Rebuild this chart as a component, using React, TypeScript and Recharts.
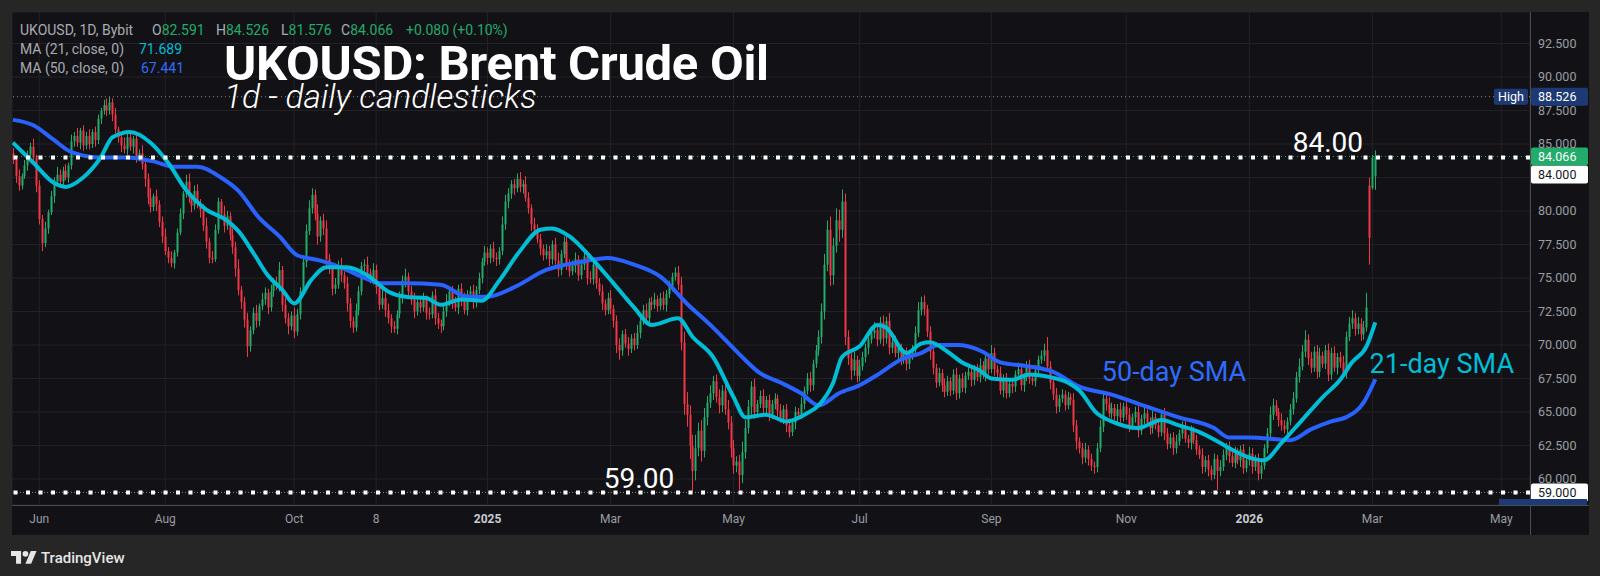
import React from 'react'
import {
  ComposedChart, Bar, Line, XAxis, YAxis, CartesianGrid, ReferenceLine, ReferenceDot,
} from 'recharts'

const GREEN = '#22ab6b'
const RED = '#f23645'
const CYAN = '#00bcd4'
const BLUE = '#2962ff'
const AXIS_TEXT = '#9a9da5'
const FONT = 'Roboto, "Noto Sans", sans-serif'

// daily closes, one per bar (21 May 2024 .. 3 Mar 2026)
const closes = [
  83.8, 82.6, 81.9, 82.6, 83.4, 84.2, 84.8, 84.0, 81.9, 79.4,
  77.6, 78.7, 79.9, 81.1, 82.2, 82.7, 82.2, 83.0, 82.5, 83.4,
  85.2, 85.6, 85.1, 86.0, 84.9, 85.6, 85.0, 85.9, 85.3, 86.9,
  87.5, 87.9, 87.5, 88.1, 87.2, 86.1, 85.5, 84.9, 84.6, 85.5,
  84.8, 85.4, 84.0, 84.3, 83.5, 82.4, 81.0, 80.3, 81.1, 80.5,
  79.2, 78.1, 77.0, 76.5, 76.1, 76.9, 78.4, 79.8, 81.3, 82.2,
  81.0, 80.4, 81.5, 80.6, 80.1, 78.9, 77.7, 76.5, 76.4, 78.6,
  80.7, 79.8, 78.9, 79.6, 78.2, 77.3, 75.7, 74.1, 73.2, 71.9,
  69.9, 71.1, 72.4, 71.8, 72.9, 73.4, 73.9, 72.8, 74.0, 74.7,
  74.4, 75.6, 73.0, 72.0, 71.4, 72.2, 71.0, 72.3, 74.0, 76.2,
  78.5, 80.2, 81.2, 79.8, 78.1, 79.3, 78.7, 76.4, 75.7, 74.2,
  74.5, 75.9, 75.2, 74.6, 73.1, 71.8, 71.3, 72.6, 74.0, 75.9,
  76.0, 75.4, 74.9, 75.6, 74.3, 73.0, 73.5, 72.6, 72.0, 71.4,
  71.2, 72.3, 73.5, 74.8, 75.1, 74.0, 73.4, 72.5, 73.2, 72.8,
  73.4, 72.4, 72.3, 73.7, 72.0, 71.6, 71.4, 72.5, 73.2, 74.0,
  73.1, 72.8, 74.2, 73.3, 72.6, 73.8, 74.0, 73.2, 74.1, 75.0,
  76.2, 76.9, 76.5, 77.2, 76.5, 76.4, 77.0, 79.0, 80.7, 81.3,
  82.0, 81.7, 82.4, 81.8, 82.0, 81.0, 80.2, 79.0, 78.6, 77.9,
  77.2, 76.7, 77.0, 76.4, 77.5, 76.3, 75.6, 76.8, 77.7, 76.1,
  75.5, 75.9, 76.4, 75.2, 76.0, 76.6, 75.0, 74.9, 76.0, 74.6,
  74.0, 73.1, 72.6, 73.5, 72.7, 71.8, 70.0, 69.6, 70.8, 70.1,
  69.7, 70.5, 70.0, 70.9, 71.8, 72.6, 72.0, 73.2, 73.0, 73.4,
  72.9, 73.5, 73.0, 73.8, 74.4, 75.1, 75.4, 74.5, 70.2, 65.6,
  64.8, 62.5, 60.6, 62.3, 63.6, 62.1, 64.6, 65.7, 66.4, 67.3,
  66.1, 65.5, 66.6, 65.2, 64.2, 62.3, 61.0, 61.3, 60.3, 62.0,
  63.8, 65.4, 66.9, 65.0, 65.6, 66.2, 65.3, 65.9, 64.8, 65.6,
  66.0, 65.1, 64.5, 65.2, 64.0, 63.5, 64.2, 65.0, 64.8, 65.6,
  66.6, 67.5, 67.0, 68.6, 69.6, 70.6, 72.5, 76.0, 78.6, 75.2,
  77.4, 79.3, 78.6, 80.7, 70.6, 69.0, 68.1, 68.9, 67.7, 68.4,
  69.1, 69.8, 70.4, 70.9, 71.1, 70.4, 71.7, 70.5, 71.8, 69.8,
  70.2, 69.4, 69.8, 68.9, 69.3, 68.6, 69.2, 69.6, 70.9, 72.6,
  73.2, 72.7, 71.0, 69.5, 68.3, 67.2, 67.9, 67.0, 66.5, 67.3,
  66.6, 67.8, 66.4, 67.5, 66.8, 67.7, 68.0, 67.4, 68.2, 67.6,
  68.5, 67.8, 69.0, 68.2, 69.4, 68.2, 67.9, 66.6, 67.5, 66.4,
  67.1, 66.9, 67.8, 68.2, 67.0, 67.6, 68.4, 67.5, 67.3, 68.1,
  68.9, 69.2, 69.6, 68.4, 67.2, 66.3, 65.4, 66.0, 66.3, 65.5,
  66.1, 65.9, 64.0, 62.8, 62.3, 61.6, 62.2, 61.5, 61.0, 60.9,
  62.3, 63.9, 66.0, 65.6, 64.9, 65.3, 64.7, 65.2, 64.6, 65.4,
  64.8, 64.0, 64.6, 65.0, 63.6, 64.5, 64.9, 64.2, 63.8, 64.6,
  64.0, 63.5, 64.8, 63.4, 62.6, 63.1, 62.3, 62.8, 63.4, 63.9,
  63.0, 62.7, 63.6, 62.9, 62.2, 61.8, 60.9, 61.4, 60.7, 60.3,
  61.5, 60.6, 60.9, 61.8, 62.4, 61.7, 61.2, 61.9, 61.4, 62.2,
  60.8, 61.4, 61.9, 60.9, 61.5, 60.4, 61.0, 62.3, 63.4, 64.8,
  65.5, 65.0, 64.4, 64.0, 63.7, 64.3, 65.2, 66.0, 67.6, 68.4,
  69.5, 70.4, 69.0, 68.3, 69.5, 68.0, 69.2, 68.6, 69.6, 67.8,
  69.4, 68.3, 69.1, 68.7, 67.9, 70.6, 71.6, 72.0, 71.2, 71.6,
  70.8, 71.3, 72.8, 78.0, 83.986, 84.066,
]

// upper wick above the body, per bar
const wickUp = [
  0.4, 0.3, 0.5, 0.2, 0.4, 0.3, 0.3, 0.6, 0.2, 0.4,
  0.3, 0.5, 0.2, 0.4, 0.3, 0.6, 0.4, 0.3, 0.5, 0.2,
  0.5, 0.3, 0.6, 0.2, 0.4, 0.3, 0.5, 0.2, 0.4, 0.3,
  0.2, 0.4, 0.5, 0.43, 0.3, 0.5, 0.2, 0.4, 0.6, 0.3,
  0.4, 0.2, 0.5, 0.3, 0.6, 0.3, 0.4, 0.7, 0.2, 0.5,
  0.3, 0.4, 0.6, 0.3, 0.5, 0.2, 0.3, 0.4, 0.2, 0.5,
  0.6, 0.3, 0.4, 0.5, 0.3, 0.4, 0.6, 0.3, 0.5, 0.4,
  0.3, 0.2, 0.6, 0.4, 0.3, 0.5, 0.4, 0.7, 0.3, 0.4,
  0.5, 0.3, 0.4, 0.6, 0.2, 0.5, 0.4, 0.3, 0.5, 0.3,
  0.4, 0.6, 0.3, 0.5, 0.4, 0.3, 0.6, 0.4, 0.3, 0.4,
  0.5, 0.6, 0.5, 0.4, 0.7, 0.3, 0.5, 0.6, 0.4, 0.3,
  0.5, 0.4, 0.6, 0.3, 0.5, 0.4, 0.3, 0.5, 0.4, 0.3,
  0.4, 0.6, 0.3, 0.5, 0.4, 0.3, 0.6, 0.4, 0.5, 0.3,
  0.4, 0.3, 0.5, 0.4, 0.6, 0.3, 0.4, 0.5, 0.3, 0.4,
  0.5, 0.3, 0.4, 0.3, 0.5, 0.4, 0.3, 0.4, 0.6, 0.3,
  0.4, 0.5, 0.3, 0.4, 0.6, 0.3, 0.4, 0.5, 0.3, 0.4,
  0.3, 0.5, 0.4, 0.3, 0.5, 0.4, 0.3, 0.6, 0.5, 0.4,
  0.3, 0.4, 0.4, 0.5, 0.3, 0.6, 0.4, 0.3, 0.5, 0.4,
  0.4, 0.3, 0.5, 0.4, 0.3, 0.5, 0.6, 0.3, 0.4, 0.5,
  0.3, 0.4, 0.5, 0.3, 0.4, 0.6, 0.3, 0.5, 0.4, 0.3,
  0.4, 0.5, 0.3, 0.4, 0.6, 0.3, 0.4, 0.5, 0.3, 0.4,
  0.5, 0.3, 0.4, 0.6, 0.3, 0.4, 0.5, 0.3, 0.4, 0.5,
  0.3, 0.4, 0.5, 0.3, 0.4, 0.3, 0.4, 0.5, 0.6, 0.8,
  0.9, 0.7, 0.8, 1.0, 0.6, 0.8, 0.7, 0.5, 0.6, 0.4,
  0.5, 0.6, 0.4, 0.5, 0.7, 0.5, 0.6, 0.4, 0.5, 0.8,
  0.6, 0.5, 0.4, 0.6, 0.3, 0.4, 0.5, 0.3, 0.4, 0.3,
  0.4, 0.3, 0.5, 0.3, 0.4, 0.5, 0.3, 0.4, 0.3, 0.5,
  0.3, 0.4, 0.5, 0.3, 0.4, 0.5, 0.6, 0.8, 0.7, 1.0,
  0.6, 0.9, 0.8, 0.9, 0.6, 0.5, 0.4, 0.6, 0.3, 0.5,
  0.4, 0.3, 0.5, 0.4, 0.6, 0.3, 0.4, 0.5, 0.3, 0.6,
  0.3, 0.5, 0.4, 0.3, 0.4, 0.5, 0.3, 0.4, 0.5, 0.6,
  0.4, 0.5, 0.3, 0.4, 0.5, 0.3, 0.4, 0.3, 0.5, 0.4,
  0.3, 0.4, 0.5, 0.3, 0.4, 0.3, 0.5, 0.4, 0.3, 0.4,
  0.5, 0.3, 0.4, 0.3, 0.6, 0.4, 0.3, 0.5, 0.3, 0.4,
  0.3, 0.4, 0.3, 0.5, 0.4, 0.3, 0.4, 0.5, 0.3, 0.4,
  0.3, 0.4, 0.5, 1.0, 0.4, 0.3, 0.5, 0.3, 0.4, 0.3,
  0.4, 0.3, 0.5, 0.4, 0.3, 0.4, 0.5, 0.3, 0.4, 0.3,
  0.4, 0.5, 0.4, 0.3, 0.5, 0.4, 0.3, 0.4, 0.5, 0.3,
  0.4, 0.5, 0.3, 0.4, 0.5, 0.3, 0.4, 0.3, 0.4, 0.5,
  0.3, 0.4, 0.3, 0.5, 0.4, 0.3, 0.4, 0.5, 0.3, 0.4,
  0.5, 0.3, 0.4, 0.3, 0.4, 0.3, 0.5, 0.3, 0.4, 0.3,
  0.4, 0.3, 0.5, 0.4, 0.3, 0.4, 0.3, 0.5, 0.4, 0.3,
  0.4, 0.3, 0.5, 0.4, 0.3, 0.4, 0.5, 0.3, 0.4, 0.6,
  0.5, 0.4, 0.3, 0.5, 0.4, 0.3, 0.4, 0.5, 0.4, 0.6,
  0.5, 0.7, 0.4, 0.5, 0.4, 0.5, 0.6, 0.3, 0.4, 0.5,
  0.4, 0.5, 0.3, 0.4, 0.5, 0.4, 0.5, 0.6, 0.4, 0.5,
  0.4, 0.5, 1.1, 0.6, 0.2, 0.46,
]

// lower wick below the body, per bar
const wickDown = [
  0.3, 0.5, 0.4, 0.3, 0.2, 0.4, 0.3, 0.4, 0.5, 0.4,
  0.6, 0.3, 0.4, 0.2, 0.5, 0.3, 0.4, 0.3, 0.2, 0.4,
  0.3, 0.4, 0.3, 0.5, 0.4, 0.3, 0.4, 0.3, 0.5, 0.3,
  0.4, 0.3, 0.4, 0.3, 0.5, 0.3, 0.4, 0.5, 0.3, 0.4,
  0.3, 0.5, 0.4, 0.3, 0.4, 0.6, 0.5, 0.4, 0.3, 0.5,
  0.4, 0.5, 0.3, 0.4, 0.3, 0.4, 0.3, 0.2, 0.4, 0.3,
  0.4, 0.5, 0.3, 0.4, 0.6, 0.4, 0.5, 0.4, 0.3, 0.2,
  0.3, 0.4, 0.5, 0.3, 0.4, 0.5, 0.6, 0.4, 0.5, 0.6,
  0.8, 0.4, 0.3, 0.5, 0.4, 0.3, 0.4, 0.5, 0.3, 0.4,
  0.3, 0.4, 0.5, 0.4, 0.6, 0.3, 0.5, 0.3, 0.4, 0.3,
  0.4, 0.3, 0.4, 0.5, 0.6, 0.4, 0.5, 0.7, 0.4, 0.5,
  0.4, 0.3, 0.5, 0.4, 0.6, 0.5, 0.4, 0.3, 0.4, 0.3,
  0.4, 0.5, 0.3, 0.4, 0.5, 0.4, 0.3, 0.5, 0.4, 0.5,
  0.3, 0.4, 0.3, 0.4, 0.5, 0.3, 0.4, 0.5, 0.3, 0.4,
  0.3, 0.5, 0.4, 0.3, 0.5, 0.4, 0.5, 0.3, 0.4, 0.3,
  0.4, 0.3, 0.5, 0.4, 0.3, 0.4, 0.3, 0.5, 0.4, 0.3,
  0.4, 0.3, 0.5, 0.4, 0.3, 0.5, 0.4, 0.3, 0.4, 0.5,
  0.4, 0.5, 0.3, 0.4, 0.5, 0.3, 0.4, 0.5, 0.4, 0.3,
  0.5, 0.4, 0.3, 0.5, 0.4, 0.3, 0.5, 0.4, 0.3, 0.5,
  0.4, 0.3, 0.5, 0.4, 0.3, 0.4, 0.5, 0.3, 0.4, 0.4,
  0.3, 0.5, 0.4, 0.3, 0.4, 0.5, 0.6, 0.7, 0.4, 0.3,
  0.5, 0.3, 0.4, 0.3, 0.4, 0.3, 0.5, 0.3, 0.4, 0.3,
  0.4, 0.3, 0.4, 0.5, 0.3, 0.4, 0.3, 0.4, 0.6, 0.8,
  0.9, 1.0, 1.5, 0.7, 0.6, 0.8, 0.5, 0.6, 0.4, 0.5,
  0.4, 0.6, 0.5, 0.4, 0.5, 0.7, 0.6, 0.5, 1.1, 0.6,
  0.5, 0.4, 0.6, 0.5, 0.4, 0.3, 0.5, 0.4, 0.5, 0.3,
  0.4, 0.5, 0.3, 0.4, 0.5, 0.4, 0.3, 0.5, 0.4, 0.3,
  0.4, 0.3, 0.5, 0.4, 0.3, 0.4, 0.5, 0.6, 0.5, 0.8,
  0.7, 0.5, 0.9, 0.6, 0.6, 0.5, 0.7, 0.4, 0.5, 0.4,
  0.3, 0.4, 0.5, 0.3, 0.4, 0.5, 0.3, 0.6, 0.4, 0.5,
  0.4, 0.3, 0.5, 0.4, 0.3, 0.5, 0.4, 0.3, 0.4, 0.3,
  0.4, 0.5, 0.4, 0.6, 0.5, 0.4, 0.3, 0.5, 0.4, 0.3,
  0.4, 0.3, 0.5, 0.4, 0.3, 0.4, 0.3, 0.5, 0.4, 0.3,
  0.4, 0.3, 0.5, 0.4, 0.3, 0.5, 0.4, 0.3, 0.5, 0.4,
  0.3, 0.5, 0.4, 0.3, 0.4, 0.5, 0.3, 0.4, 0.3, 0.4,
  0.4, 0.3, 0.4, 0.3, 0.5, 0.4, 0.5, 0.4, 0.3, 0.4,
  0.3, 0.4, 0.5, 0.6, 0.4, 0.5, 0.4, 0.5, 0.4, 0.5,
  0.4, 0.3, 0.4, 0.5, 0.3, 0.4, 0.3, 0.5, 0.4, 0.3,
  0.4, 0.5, 0.3, 0.4, 0.5, 0.3, 0.4, 0.3, 0.5, 0.4,
  0.3, 0.4, 0.3, 0.5, 0.4, 0.3, 0.5, 0.4, 0.3, 0.4,
  0.3, 0.4, 0.5, 0.3, 0.4, 0.3, 0.5, 0.4, 0.5, 0.4,
  0.3, 1.4, 0.4, 0.3, 0.4, 0.5, 0.3, 0.4, 0.3, 0.5,
  0.4, 0.3, 0.4, 0.5, 0.3, 0.5, 0.4, 0.3, 0.4, 0.3,
  0.4, 0.3, 0.5, 0.4, 0.3, 0.4, 0.3, 0.4, 0.3, 0.4,
  0.3, 0.4, 0.5, 0.4, 0.3, 0.5, 0.4, 0.3, 0.4, 0.5,
  0.4, 0.3, 0.5, 0.4, 0.3, 0.4, 0.3, 0.4, 0.5, 0.4,
  0.5, 0.4, 0.3, 2.0, 0.1, 1.015,
]

// bars whose open is not the previous close (weekend gap at the end)
const openGaps: Record<number, number> = { 0: 84.3, 463: 81.9, 464: 81.7, 465: 82.591 }

// moving averages: [bar index, value]
const ma21Points: [number, number][] = [
  [0, 85.1], [7, 83.6], [14, 82.1], [18, 81.8], [24, 82.5], [30, 84.0], [34, 85.5], [40, 85.9],
  [47, 85.1], [53, 83.6], [59, 81.6], [66, 80.1], [73, 79.3], [77, 78.5], [82, 76.9], [87, 75.2],
  [92, 74.1], [96, 73.1], [102, 74.9], [107, 75.8], [114, 75.8], [121, 75.2], [128, 74.0],
  [134, 73.6], [141, 73.5], [146, 73.0], [153, 73.4], [160, 73.3], [166, 74.8], [173, 77.0],
  [180, 78.6], [184, 78.7], [190, 78.1], [197, 76.6], [205, 74.6], [212, 72.8], [218, 71.5],
  [227, 72.0], [232, 70.6], [239, 69.1], [246, 66.1], [250, 64.6], [257, 64.8], [264, 64.3],
  [271, 64.9], [275, 65.5], [280, 67.2], [283, 69.1], [289, 69.9], [295, 71.5], [298, 71.3],
  [305, 69.4], [310, 70.1], [313, 70.2], [319, 69.5], [324, 68.7], [330, 68.1], [334, 67.5],
  [341, 67.4], [347, 67.8], [354, 67.6], [360, 67.2], [364, 66.6], [370, 64.9], [375, 64.3],
  [384, 63.8], [392, 64.4], [398, 64.0], [405, 63.5], [412, 62.7], [416, 62.2], [422, 61.6],
  [427, 61.4], [433, 62.7], [440, 64.4], [447, 66.1], [453, 67.4], [457, 68.7], [462, 69.9],
  [465, 71.689],
]
const ma50Points: [number, number][] = [
  [0, 86.8], [7, 86.4], [14, 85.3], [20, 84.4], [30, 84.0], [39, 84.0], [48, 83.7], [55, 83.3],
  [63, 83.3], [71, 82.5], [77, 81.5], [84, 79.5], [91, 78.1], [97, 76.7], [105, 76.3],
  [112, 75.8], [118, 75.2], [126, 74.6], [134, 74.6], [146, 74.5], [155, 73.6], [162, 73.6],
  [171, 74.3], [182, 75.6], [194, 76.2], [203, 76.5], [212, 76.0], [221, 75.1], [230, 73.1],
  [239, 71.3], [248, 69.3], [255, 67.9], [262, 67.2], [269, 66.4], [275, 65.5], [282, 66.4],
  [289, 67.0], [296, 67.9], [303, 68.9], [310, 69.4], [316, 70.0], [323, 70.0], [331, 69.5],
  [337, 68.7], [347, 68.4], [355, 68.0], [364, 66.9], [375, 66.3], [387, 65.4], [398, 64.6],
  [410, 63.8], [415, 63.1], [422, 63.1], [436, 62.9], [443, 63.7], [450, 64.3], [455, 64.6],
  [461, 65.7], [465, 67.441],
]

const priceTicks = [60, 62.5, 65, 67.5, 70, 72.5, 75, 77.5, 80, 82.5, 85, 87.5, 90, 92.5]
// 82.500 sits under the 84.000 tag in the original, so its label is not drawn
const hiddenPriceLabels = [82.5]
const timeTicks = [9, 52, 96, 124, 162, 204, 246, 289, 334, 380, 422, 464, 508]
const timeLabels = ['Jun', 'Aug', 'Oct', '8', '2025', 'Mar', 'May', 'Jul', 'Sep', 'Nov', '2026', 'Mar', 'May']

const ma21Map = new Map(ma21Points)
const ma50Map = new Map(ma50Points)

const data = closes.map((c, i) => {
  const o = openGaps[i] ?? closes[i - 1]
  const h = Math.max(o, c) + (wickUp[i] ?? 0)
  const l = Math.min(o, c) - (wickDown[i] ?? 0)
  return { i, o, c, h, l, range: [l, h], ma21: ma21Map.get(i), ma50: ma50Map.get(i) }
})

function Candle(props: any) {
  const { x, y, width, height, payload } = props
  if (!payload || x == null) return null
  const { o, c, h, l } = payload
  const top = Math.min(y, y + height)
  const span = Math.abs(height)
  const k = h === l ? 0 : span / (h - l)
  const yHi = top + (h - Math.max(o, c)) * k
  const yLo = top + (h - Math.min(o, c)) * k
  const px = Math.round(x + width / 2)
  const color = c >= o ? GREEN : RED
  return (
    <g>
      <rect x={px} y={top} width={1} height={Math.max(1, span)} fill={color} />
      <rect x={px - 0.5} y={yHi} width={2} height={Math.max(1, yLo - yHi)} fill={color} />
    </g>
  )
}

function PriceTag({ viewBox, text, bg, color, dy = 0 }: any) {
  if (!viewBox) return null
  const x = viewBox.x + viewBox.width + 1
  const y = viewBox.y + dy
  return (
    <g>
      <rect x={x} y={y - 9} width={57} height={18} rx={2} fill={bg} />
      <text x={x + 7} y={y + 4.5} fill={color} fontSize={12.5} fontFamily={FONT}>{text}</text>
    </g>
  )
}

function HighTag({ viewBox }: any) {
  if (!viewBox) return null
  const right = viewBox.x + viewBox.width
  const y = viewBox.y
  return (
    <g>
      <rect x={right - 36} y={y - 8} width={34} height={16} rx={2} fill="#1d3a74" />
      <text x={right - 19} y={y + 4.5} fill="#fff" fontSize={12.5} textAnchor="middle" fontFamily={FONT}>High</text>
      <rect x={right + 1} y={y - 9} width={57} height={18} rx={2} fill="#1d3a74" />
      <text x={right + 8} y={y + 4.5} fill="#fff" fontSize={12.5} fontFamily={FONT}>88.526</text>
    </g>
  )
}

function TimeTick({ x, y, payload }: any) {
  const label = timeLabels[timeTicks.indexOf(payload.value)] ?? ''
  const bold = label.length === 4
  return (
    <text x={x} y={y} dy={10} textAnchor="middle" fontSize={12} fontFamily={FONT}
      fill={bold ? '#c9cbd1' : AXIS_TEXT} fontWeight={bold ? 700 : 400}>
      {label}
    </text>
  )
}

export default function App() {
  return (
    <div style={{ position: 'absolute', left: 0, top: 0, width: 1600, height: 576, background: '#262626', fontFamily: FONT }}>
      <div style={{ position: 'absolute', left: 12, top: 12, width: 1577, height: 523, background: '#121216' }}>
        <ComposedChart width={1577} height={523} data={data} margin={{ top: 0, right: 0, bottom: 0, left: 0 }}>
          <CartesianGrid stroke="#222227" />
          <XAxis dataKey="i" type="number" domain={[-0.3, 517.8]} ticks={timeTicks} tick={<TimeTick />}
            allowDataOverflow tickLine={false} axisLine={false} height={30} interval={0} />
          <YAxis orientation="right" domain={[58.06, 94.85]} ticks={priceTicks} allowDataOverflow width={59}
            tickFormatter={(v: number) => (hiddenPriceLabels.includes(v) ? '' : v.toFixed(3))}
            tick={{ fill: AXIS_TEXT, fontSize: 12.5 }} tickLine={false} axisLine={false} />
          <Bar dataKey="range" shape={<Candle />} barSize={3} isAnimationActive={false} />
          <Line dataKey="ma50" type="monotone" stroke={BLUE} strokeWidth={4} dot={false} connectNulls isAnimationActive={false} />
          <Line dataKey="ma21" type="monotone" stroke={CYAN} strokeWidth={4} dot={false} connectNulls isAnimationActive={false} />
          <ReferenceLine y={88.526} stroke="#8a8a8f" strokeDasharray="1 3" label={<HighTag />} />
          <ReferenceLine y={84.066} stroke={GREEN} strokeDasharray="1 3" />
          <ReferenceLine y={59} stroke="#8a8a8f" strokeDasharray="1 2" />
          <ReferenceLine y={84} stroke="#ffffff" strokeWidth={4} strokeDasharray="4 8.5"
            label={<PriceTag text="84.000" bg="#ffffff" color="#131722" dy={17} />} />
          <ReferenceLine y={84} stroke="none"
            label={<PriceTag text="84.066" bg={GREEN} color="#ffffff" dy={-1} />} />
          <ReferenceLine y={59} stroke="#ffffff" strokeWidth={4} strokeDasharray="4 8.5"
            label={<PriceTag text="59.000" bg="#ffffff" color="#131722" dy={0} />} />
          <ReferenceDot x={448.8} y={85.15} r={0} fill="none" stroke="none"
            label={{ value: '84.00', fill: '#ffffff', fontSize: 28, position: 'center' }} />
          <ReferenceDot x={213.7} y={60.07} r={0} fill="none" stroke="none"
            label={{ value: '59.00', fill: '#ffffff', fontSize: 28, position: 'center' }} />
          <ReferenceDot x={396.3} y={68.0} r={0} fill="none" stroke="none"
            label={{ value: '50-day SMA', fill: '#2f6bff', fontSize: 27, position: 'center' }} />
          <ReferenceDot x={487.7} y={68.66} r={0} fill="none" stroke="none"
            label={{ value: '21-day SMA', fill: CYAN, fontSize: 27, position: 'center' }} />
        </ComposedChart>
      </div>
      <div style={{ position: 'absolute', left: 1530, top: 12, width: 1, height: 523, background: '#4a4c55' }} />
      <div style={{ position: 'absolute', left: 12, top: 505, width: 1577, height: 1, background: '#4a4c55' }} />
      <svg width={1600} height={576} style={{ position: 'absolute', left: 0, top: 0, pointerEvents: 'none' }}>
        <text y={35} fontSize={14} fontFamily={FONT} fill="#a9abb2">
          <tspan x={20}>UKOUSD, 1D, Bybit</tspan>
          <tspan x={152}>O</tspan><tspan fill={GREEN}>82.591</tspan>
          <tspan x={216}>H</tspan><tspan fill={GREEN}>84.526</tspan>
          <tspan x={281}>L</tspan><tspan fill={GREEN}>81.576</tspan>
          <tspan x={341}>C</tspan><tspan fill={GREEN}>84.066</tspan>
          <tspan x={406} fill={GREEN}>+0.080 (+0.10%)</tspan>
        </text>
        <text y={54} fontSize={14} fontFamily={FONT} fill="#a9abb2">
          <tspan x={20}>MA (21, close, 0)</tspan><tspan x={139} fill={CYAN}>71.689</tspan>
        </text>
        <text y={72.5} fontSize={14} fontFamily={FONT} fill="#a9abb2">
          <tspan x={20}>MA (50, close, 0)</tspan><tspan x={141} fill="#2f6bff">67.441</tspan>
        </text>
        <text x={224} y={80} fontSize={49} fontWeight={700} fill="#ffffff" fontFamily={FONT} letterSpacing={-0.3}>
          UKOUSD: Brent Crude Oil
        </text>
        <text x={224} y={108} fontSize={33.5} fontStyle="italic" fontWeight={300} fill="#ffffff" fontFamily={FONT}>
          1d - daily candlesticks
        </text>
        <rect x={1499} y={499} width={88} height={6} fill="#1d3a74" />
        <g transform="translate(11 548) scale(0.72)" fill="#e6e6e6">
          <path d="M14 22H7V11H0V4h14v18zM28 22h-8l7.5-18h8L28 22z" />
          <circle cx={20} cy={8} r={4} />
        </g>
        <text x={41} y={563} fontSize={15} fontWeight={500} fill="#e6e6e6" fontFamily={FONT}>TradingView</text>
      </svg>
    </div>
  )
}
